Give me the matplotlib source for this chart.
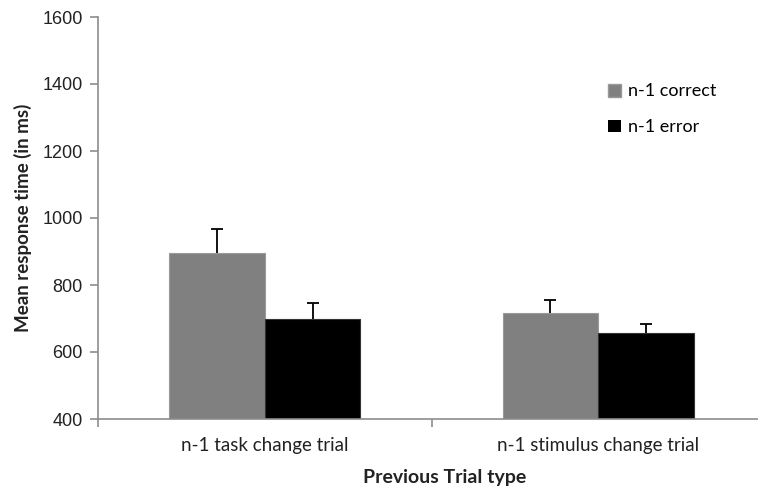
import matplotlib
matplotlib.use("agg")
import matplotlib.pyplot as plt
import numpy as np
from matplotlib.patches import Patch

# values
categories = ["n-1 task change trial", "n-1 stimulus change trial"]
correct_means = [895, 715]
correct_err = [71, 40]
error_means = [698, 658]
error_err = [47, 27]
y_ticks = [400, 600, 800, 1000, 1200, 1400, 1600]

gray = "#808080"
axis_col = "#8c8c8c"
label_font = ["Lato", "DejaVu Sans"]
tick_font = ["Liberation Sans", "DejaVu Sans"]

fig = plt.figure(figsize=(7.58, 4.88), dpi=100)
ax = fig.add_axes([98 / 758, 69 / 488, 667 / 758, 402 / 488])

x = np.arange(len(categories))
w = 0.287
cap = 0.018
ax.bar(x - w / 2, np.array(correct_means) - 400, w, bottom=400, color=gray,
       edgecolor="#9a9a9a", linewidth=0.8, zorder=2)
ax.bar(x + w / 2, np.array(error_means) - 400, w, bottom=400, color="black",
       edgecolor="#333333", linewidth=0.8, zorder=2)

# upper-only error bars
for xs, m, e in [(x - w / 2, correct_means, correct_err),
                 (x + w / 2, error_means, error_err)]:
    top = np.array(m) + np.array(e)
    ax.vlines(xs, m, top, color="black", linewidth=1.3, zorder=3)
    ax.hlines(top, xs - cap, xs + cap, color="black", linewidth=1.3, zorder=3)

ax.set_xlim(-0.5, 1.5)
ax.set_ylim(400, 1600)
ax.set_yticks(y_ticks)
ax.set_yticklabels([str(t) for t in y_ticks], family=tick_font, fontsize=13,
                   color="#222222")
ax.set_xticks(x)
ax.set_xticklabels(categories, family=label_font, fontsize=13.5, color="#222222")
ax.set_xticks([-0.5, 0.5, 1.5], minor=True)
ax.tick_params(axis="x", which="major", length=0, pad=13)
ax.tick_params(axis="x", which="minor", length=6, width=1.2, color=axis_col,
               direction="out")
ax.tick_params(axis="y", length=6, width=1.2, color=axis_col, direction="out", pad=5)

for side in ["top", "right"]:
    ax.spines[side].set_visible(False)
for side in ["left", "bottom"]:
    ax.spines[side].set_color(axis_col)
    ax.spines[side].set_linewidth(1.2)

ax.set_ylabel("Mean response time (in ms)", family=label_font, fontsize=13.5,
              fontweight="bold", color="#222222")
ax.yaxis.set_label_coords(-(98 - 23) / 667, 0.5)
ax.yaxis.label.set_va("center")
ax.set_xlabel("Previous Trial type", family=label_font, fontsize=14,
              fontweight="bold", color="#222222")
ax.xaxis.set_label_coords((445 - 98) / 667, -(477 - 419) / 402)
ax.xaxis.label.set_va("center")

handles = [Patch(facecolor=gray, edgecolor="#9a9a9a", label="n-1 correct"),
           Patch(facecolor="black", label="n-1 error")]
ax.legend(handles=handles, loc="upper left", bbox_to_anchor=(494 / 667, 0.875),
          frameon=False, handlelength=0.7, handleheight=0.7, handletextpad=0.4,
          labelspacing=1.1, prop={"family": label_font, "size": 13})

fig.savefig("out.png", dpi=100)
